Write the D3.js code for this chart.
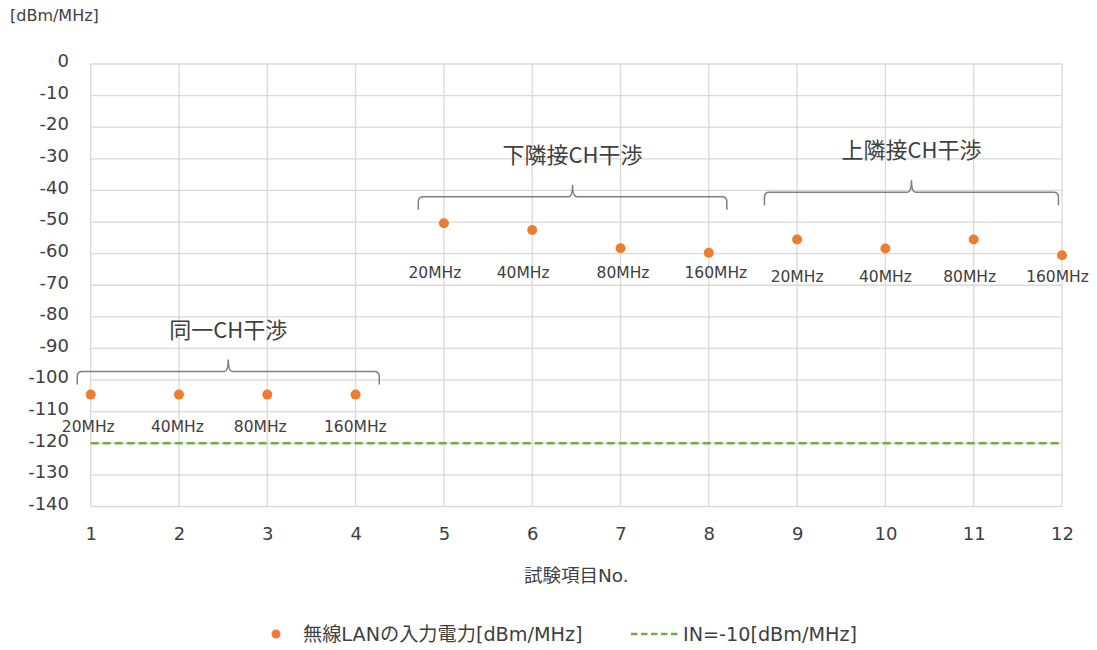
<!DOCTYPE html>
<html>
<head>
<meta charset="utf-8">
<script src="https://cdn.jsdelivr.net/npm/d3@7"></script>
<style>
  html, body { margin: 0; padding: 0; background: #fff; }
  svg { display: block; font-family: "DejaVu Sans", "Noto Sans CJK JP", sans-serif; }
</style>
</head>
<body>
<svg id="chart" width="1097" height="650"></svg>
<script>
// ---- data ----
const testNo = [1, 2, 3, 4, 5, 6, 7, 8, 9, 10, 11, 12];
const inputPower = [-104.6, -104.6, -104.6, -104.6, -50.4, -52.5, -58.3, -59.7, -55.5, -58.4, -55.5, -60.5];
const bandwidthLabels = ["20MHz", "40MHz", "80MHz", "160MHz", "20MHz", "40MHz", "80MHz", "160MHz", "20MHz", "40MHz", "80MHz", "160MHz"];
const thresholdIN = -120;
const groupNames = ["同一CH干渉", "下隣接CH干渉", "上隣接CH干渉"];
const groupFrom = [1, 5, 9];
const groupTo = [4, 8, 12];
const yTicks = [0, -10, -20, -30, -40, -50, -60, -70, -80, -90, -100, -110, -120, -130, -140];
const xTicks = [1, 2, 3, 4, 5, 6, 7, 8, 9, 10, 11, 12];
const seriesName = "無線LANの入力電力[dBm/MHz]";
const thresholdName = "IN=-10[dBm/MHz]";
const xTitle = "試験項目No.";
const yUnit = "[dBm/MHz]";

// ---- layout (not data) ----
const labelDx = [-2.4, -1.6, -7, -0.3, -9, -9, 2.5, 7, 0, 0, -4, -4.5];
const labelYVal = [-114.7, -66.2, -67.3];          // per group, data units for label row
const bracket = [ {x0: 0.848, x1: 4.268, y: -97.3}, {x0: 4.71, x1: 8.204, y: -42.0}, {x0: 8.63, x1: 11.96, y: -40.6} ];

const svg = d3.select("#chart");
const x = d3.scaleLinear().domain([1, 12]).range([90.7, 1062]);
const y = d3.scaleLinear().domain([-140, 0]).range([506.5, 64]);
const textColor = "#404040";
const gridColor = "#d9d9d9";

// gridlines
const g = svg.append("g");
g.selectAll("line.h").data(yTicks).join("line")
  .attr("x1", x(1)).attr("x2", x(12))
  .attr("y1", d => y(d)).attr("y2", d => y(d))
  .attr("stroke", gridColor).attr("stroke-width", 1.3);
g.selectAll("line.v").data(xTicks).join("line")
  .attr("x1", d => x(d)).attr("x2", d => x(d))
  .attr("y1", y(0)).attr("y2", y(-140))
  .attr("stroke", gridColor).attr("stroke-width", 1.3);

// y axis
const yAxis = svg.append("g").attr("transform", "translate(69,-3)")
  .call(d3.axisLeft(y).tickValues(yTicks).tickSize(0).tickPadding(0).tickFormat(d => String(d)));
yAxis.select(".domain").remove();
yAxis.selectAll("text").attr("font-size", 18).attr("fill", textColor)
  .attr("font-family", "DejaVu Sans");

// x axis
const xAxis = svg.append("g").attr("transform", "translate(0,527)")
  .call(d3.axisBottom(x).tickValues(xTicks).tickSize(0).tickPadding(0).tickFormat(d => String(d)));
xAxis.select(".domain").remove();
xAxis.selectAll("text").attr("font-size", 18).attr("fill", textColor)
  .attr("font-family", "DejaVu Sans");

// threshold dashed line
svg.append("line")
  .attr("x1", x(1)).attr("x2", x(12))
  .attr("y1", y(thresholdIN)).attr("y2", y(thresholdIN))
  .attr("stroke", "#70AD47").attr("stroke-width", 2.6)
  .attr("stroke-dasharray", "8,4");

// brackets
const bracketColor = "#7f7f7f";
bracket.forEach((b, i) => {
  const L = x(b.x0), R = x(b.x1), Y = y(b.y), M = (L + R) / 2;
  const hook = 13, r = 5, peak = 12;
  const p = d3.path();
  p.moveTo(L, Y + hook);
  p.lineTo(L, Y + r);
  p.quadraticCurveTo(L, Y, L + r, Y);
  p.lineTo(M - 4, Y);
  p.quadraticCurveTo(M, Y, M, Y - peak);
  p.quadraticCurveTo(M, Y, M + 4, Y);
  p.lineTo(R - r, Y);
  p.quadraticCurveTo(R, Y, R, Y + r);
  p.lineTo(R, Y + hook);
  svg.append("path").attr("d", p.toString())
    .attr("fill", "none").attr("stroke", bracketColor).attr("stroke-width", 1.5);
  svg.append("text")
    .attr("x", M).attr("y", Y - 44)
    .attr("text-anchor", "middle").attr("dominant-baseline", "central")
    .attr("font-family", "Noto Sans CJK JP")
    .attr("font-size", 22).attr("fill", textColor)
    .text(groupNames[i]);
});

// points
svg.selectAll("circle.pt").data(testNo).join("circle")
  .attr("cx", (d) => x(d))
  .attr("cy", (d, i) => y(inputPower[i]))
  .attr("r", 5)
  .attr("fill", "#ED7D31");

// point labels
svg.selectAll("text.pl").data(testNo).join("text")
  .attr("x", (d, i) => x(d) + labelDx[i])
  .attr("y", (d, i) => {
    const gi = groupFrom.findIndex((f, k) => d >= f && d <= groupTo[k]);
    return y(labelYVal[gi]);
  })
  .attr("text-anchor", "middle").attr("dominant-baseline", "central")
  .attr("font-size", 15.5).attr("fill", textColor)
  .text((d, i) => bandwidthLabels[i]);

// axis title
svg.append("text")
  .attr("x", (x(1) + x(12)) / 2).attr("y", 575)
  .attr("text-anchor", "middle").attr("dominant-baseline", "central")
  .attr("font-size", 18.5).attr("fill", textColor)
  .text(xTitle);

// y unit
svg.append("text")
  .attr("x", 10).attr("y", 15)
  .attr("dominant-baseline", "central")
  .attr("font-size", 16).attr("fill", textColor)
  .text(yUnit);

// legend
const ly = 634;
svg.append("circle").attr("cx", 276).attr("cy", ly).attr("r", 4.5).attr("fill", "#ED7D31");
svg.append("text").attr("x", 303).attr("y", ly).attr("dominant-baseline", "central")
  .attr("font-size", 19.2).attr("fill", textColor).text(seriesName);
svg.append("line").attr("x1", 631).attr("x2", 680).attr("y1", ly).attr("y2", ly)
  .attr("stroke", "#70AD47").attr("stroke-width", 2.4).attr("stroke-dasharray", "6.5,3.5");
svg.append("text").attr("x", 683).attr("y", ly).attr("dominant-baseline", "central")
  .attr("font-size", 19.2).attr("fill", textColor).text(thresholdName);
</script>
</body>
</html>
